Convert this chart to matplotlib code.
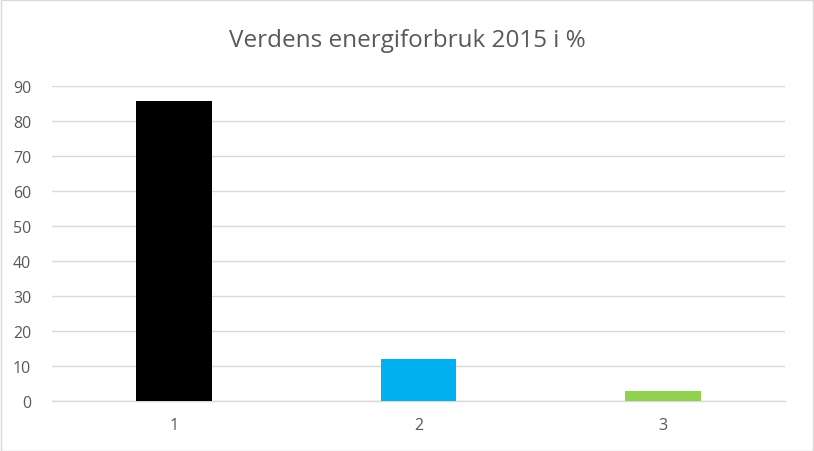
import matplotlib
matplotlib.use("Agg")
import matplotlib.pyplot as plt
from matplotlib.patches import Rectangle

# data
categories = ["1", "2", "3"]
values = [85.7, 11.8, 2.8]
bar_colors = ["#000000", "#00B0F0", "#92D050"]
y_ticks = [0, 10, 20, 30, 40, 50, 60, 70, 80, 90]

title = "Verdens energiforbruk 2015 i %"

plt.rcParams['font.family'] = ['Open Sans', 'DejaVu Sans']

W, H = 814, 452
fig = plt.figure(figsize=(W / 100, H / 100), dpi=100)
fig.patch.set_facecolor("white")

# outer chart border
fig.add_artist(Rectangle((0.5 / W, 0.5 / H), 1 - 1.5 / W, 1 - 1.5 / H,
                         transform=fig.transFigure, fill=False,
                         edgecolor="#D9D9D9", linewidth=1.0))

left, right = 52, 785
bottom, top = H - 401.7, H - 87.3
ax = fig.add_axes([left / W, bottom / H, (right - left) / W, (top - bottom) / H])

x = list(range(1, len(categories) + 1))
ax.bar(x, values, width=0.31, color=bar_colors, zorder=3)

ax.set_xlim(0.5, len(categories) + 0.5)
ax.set_ylim(0, 90)
ax.set_yticks(y_ticks)
ax.set_xticks(x)
ax.set_xticklabels(categories)

ax.grid(axis="y", color="#D9D9D9", linewidth=1.0, zorder=0)
for s in ["top", "right", "left"]:
    ax.spines[s].set_visible(False)
ax.spines["bottom"].set_color("#D9D9D9")
ax.spines["bottom"].set_linewidth(1.0)

ax.tick_params(axis="both", length=0, labelsize=11.5, labelcolor="#595959")
ax.tick_params(axis="y", pad=15)
ax.tick_params(axis="x", pad=12)

fig.text(0.5, 1 - 41 / H, title, ha="center", va="center",
         fontsize=17.5, color="#595959")

fig.savefig("out.png", dpi=100, facecolor="white")
